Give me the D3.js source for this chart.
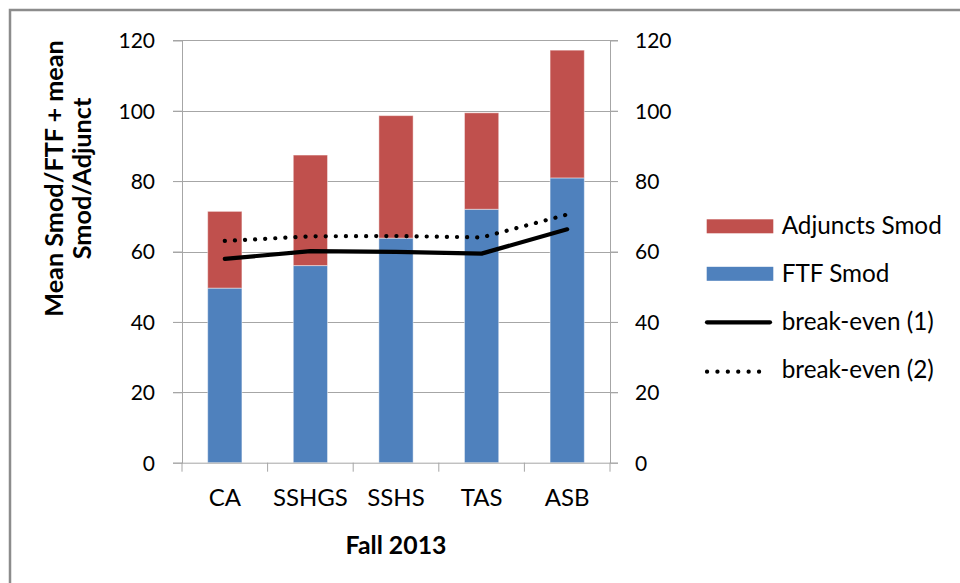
<!DOCTYPE html>
<html>
<head>
<meta charset="utf-8">
<script src="https://cdn.jsdelivr.net/npm/d3@7/dist/d3.min.js"></script>
<style>
  html, body { margin: 0; padding: 0; background: #fff; }
  svg { display: block; }
  text { font-family: Lato, "Open Sans", sans-serif; fill: #000; }
</style>
</head>
<body>
<svg id="chart" width="960" height="583"></svg>
<script>
// ---- data ----
const categories = ["CA", "SSHGS", "SSHS", "TAS", "ASB"];
const ftfSmod      = [49.6, 56.0, 63.8, 72.0, 80.9];
const adjunctsSmod = [21.8, 31.4, 34.8, 27.4, 36.3];
const breakEven1   = [57.9, 60.1, 59.9, 59.4, 66.3];
const breakEven2   = [63.0, 64.3, 64.4, 64.0, 70.5];
const yTicks = [0, 20, 40, 60, 80, 100, 120];
const xTitle = "Fall 2013";
const yTitleLines = ["Mean Smod/FTF + mean", "Smod/Adjunct"];
const legendLabels = ["Adjuncts Smod", "FTF Smod", "break-even (1)", "break-even (2)"];

const RED = "#C0504D", BLUE = "#4F81BD", GRID = "#A6A6A6";

const svg = d3.select("#chart");

// outer frame (only top/left visible)
svg.append("rect").attr("x", 10).attr("y", 10).attr("width", 980).attr("height", 600)
  .attr("fill", "none").attr("stroke", "#8C8C8C").attr("stroke-width", 2.5);

const pLeft = 182, pRight = 610, pTop = 40.3, pBottom = 462.7;
const x = d3.scaleBand().domain(categories).range([pLeft, pRight]).paddingInner(0.6).paddingOuter(0.3);
const y = d3.scaleLinear().domain([0, 120]).range([pBottom, pTop]);

// gridlines
svg.append("g").selectAll("line").data(yTicks.filter(d => d > 0)).join("line")
  .attr("x1", pLeft - 9).attr("x2", pRight + 8)
  .attr("y1", d => Math.round(y(d)) + 0.5).attr("y2", d => Math.round(y(d)) + 0.5)
  .attr("stroke", GRID).attr("stroke-width", 1);

// stacked bars
const stackData = categories.map((c, i) => ({ cat: c, ftf: ftfSmod[i], adj: adjunctsSmod[i] }));
const stack = d3.stack().keys(["ftf", "adj"])(stackData);
const colors = { ftf: BLUE, adj: RED };
svg.append("g").selectAll("g").data(stack).join("g")
  .attr("fill", d => colors[d.key])
  .selectAll("rect").data(d => d).join("rect")
  .attr("x", d => x(d.data.cat))
  .attr("width", x.bandwidth())
  .attr("y", d => y(d[1]))
  .attr("height", d => y(d[0]) - y(d[1]))
  .attr("stroke", "rgba(255,255,255,0.45)").attr("stroke-width", 1);

// axes
const yAxisL = d3.axisLeft(y).tickValues(yTicks).tickSize(9).tickPadding(18);
const gL = svg.append("g").attr("transform", `translate(${pLeft},0)`).call(yAxisL);
const yAxisR = d3.axisRight(y).tickValues(yTicks).tickSize(8).tickPadding(17);
const gR = svg.append("g").attr("transform", `translate(${pRight},0)`).call(yAxisR);
const xAxis = d3.axisBottom(x).tickSize(0).tickPadding(0);
const gX = svg.append("g").attr("transform", `translate(0,${pBottom})`).call(xAxis);

[gL, gR].forEach(g => {
  g.select(".domain").attr("stroke", GRID);
  g.selectAll(".tick line").attr("stroke", GRID);
  g.selectAll(".tick text").attr("font-size", 21).attr("font-family", "Lato").attr("fill", "#000")
    .attr("dy", "0.35em");
});
gX.select(".domain").attr("stroke", GRID).attr("d", `M${pLeft},0.5H${pRight}`);
gX.selectAll(".tick text").attr("font-size", 24).attr("font-family", "Lato").attr("fill", "#000")
  .attr("dy", null).attr("y", 506 - pBottom);

// category separator ticks on x axis
const sepTicks = categories.map((c, i) => pLeft + i * x.step()).concat([pRight]);
gX.append("g").selectAll("line").data(sepTicks).join("line")
  .attr("x1", d => d).attr("x2", d => d).attr("y1", 0).attr("y2", 9)
  .attr("stroke", GRID);

// lines
const lineGen = d3.line().x((d, i) => x(categories[i]) + x.bandwidth() / 2).y(d => y(d));
svg.append("path").datum(breakEven1).attr("d", lineGen)
  .attr("fill", "none").attr("stroke", "#000").attr("stroke-width", 4.2)
  .attr("stroke-linecap", "round").attr("stroke-linejoin", "round");
svg.append("path").datum(breakEven2).attr("d", lineGen)
  .attr("fill", "none").attr("stroke", "#000").attr("stroke-width", 4.2)
  .attr("stroke-dasharray", "0.1 10").attr("stroke-linecap", "round");

// axis titles
svg.append("text").attr("x", 396).attr("y", 554).attr("text-anchor", "middle")
  .attr("font-size", 24.8).attr("font-weight", "bold").text(xTitle);
const yt = svg.append("g").attr("transform", "translate(0,178.5) rotate(-90)");
yTitleLines.forEach((t, i) => {
  yt.append("text").attr("x", 0).attr("y", 62.5 + i * 28).attr("text-anchor", "middle")
    .attr("font-size", 25.2).attr("font-weight", "bold").text(t);
});

// legend
const swatchY = [226.3, 273.8, 322.3, 371.7];
const textBase = [234, 281.7, 330, 378.3];
const lg = svg.append("g");
lg.append("rect").attr("x", 706.7).attr("y", swatchY[0] - 7).attr("width", 66.6).attr("height", 14).attr("fill", RED);
lg.append("rect").attr("x", 706.7).attr("y", swatchY[1] - 7).attr("width", 66.6).attr("height", 14).attr("fill", BLUE);
lg.append("line").attr("x1", 707).attr("x2", 770).attr("y1", swatchY[2]).attr("y2", swatchY[2])
  .attr("stroke", "#000").attr("stroke-width", 4.2).attr("stroke-linecap", "round");
lg.append("line").attr("x1", 707).attr("x2", 769).attr("y1", swatchY[3]).attr("y2", swatchY[3])
  .attr("stroke", "#000").attr("stroke-width", 4.2).attr("stroke-dasharray", "0.1 10.3").attr("stroke-linecap", "round");
lg.selectAll("text").data(legendLabels).join("text")
  .attr("x", 781.7).attr("y", (d, i) => textBase[i])
  .attr("font-size", 24.3).text(d => d);
</script>
</body>
</html>
